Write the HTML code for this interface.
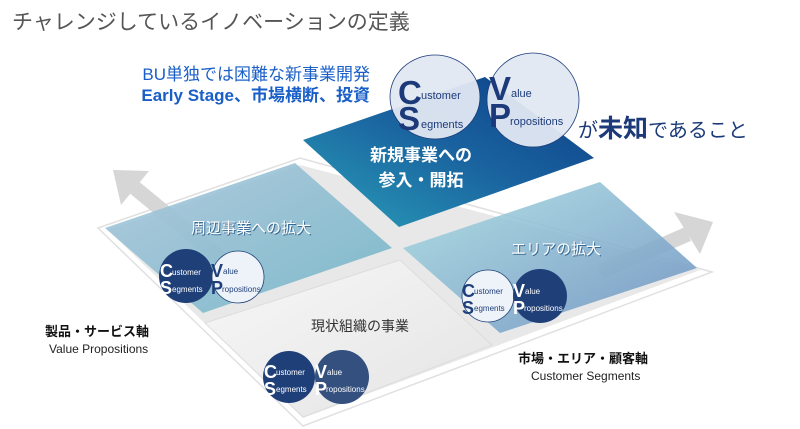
<!DOCTYPE html>
<html><head><meta charset="utf-8"><style>
html,body{margin:0;padding:0;background:#fff;width:800px;height:429px;overflow:hidden}
svg{display:block}
text{font-family:"Liberation Sans","Noto Sans CJK JP",sans-serif}
</style></head><body>
<svg width="800" height="429" viewBox="0 0 800 429" xmlns="http://www.w3.org/2000/svg">
<defs>
<linearGradient id="gTop" x1="0" y1="1" x2="1" y2="0">
<stop offset="0" stop-color="#2aa0b8"/><stop offset="0.5" stop-color="#1a64a0"/><stop offset="1" stop-color="#0c3c86"/></linearGradient>
<linearGradient id="gL" x1="0" y1="0" x2="1" y2="1">
<stop offset="0" stop-color="#a9c6dc"/><stop offset="1" stop-color="#6fb4c6"/></linearGradient>
<linearGradient id="gR" x1="0" y1="0" x2="1" y2="1">
<stop offset="0" stop-color="#a8dde2"/><stop offset="1" stop-color="#6b8fc0"/></linearGradient>
<linearGradient id="gB" x1="0" y1="0" x2="1" y2="1">
<stop offset="0" stop-color="#f7f7f7"/><stop offset="1" stop-color="#e4e4e4"/></linearGradient>
</defs>
<text x="12" y="29" font-size="21" fill="#555">チャレンジしているイノベーションの定義</text>
<!-- base -->
<polygon points="98,228 300,158 712,272 303,426" fill="#fff" stroke="#e0e0e0" stroke-width="1.5"/>
<polygon points="108,230 300,165 700,270 303,418" fill="#e8e8e8"/>
<!-- arrows -->
<line x1="135" y1="188" x2="225" y2="262" stroke="#d6d6d6" stroke-width="15"/>
<polygon points="113,170 149,171 121,205" fill="#d6d6d6"/>
<line x1="600" y1="272" x2="688" y2="234" stroke="#d6d6d6" stroke-width="15"/>
<polygon points="713,222 674,212 700,254" fill="#d6d6d6"/>
<!-- quads -->
<polygon points="303,140 485,77 594,158 399,227" fill="url(#gTop)"/>
<polygon points="105,228 295,163 392,248 203,313" fill="url(#gL)" opacity="0.88"/>
<polygon points="403,248 600,182 697,268 500,333" fill="url(#gR)" opacity="0.88"/>
<polygon points="205,323 400,260 492,345 303,417" fill="url(#gB)" stroke="#ddd"/>
<!-- top circles -->
<ellipse cx="435" cy="97" rx="45" ry="42" fill="#e2e8f2" fill-opacity="0.95" stroke="#1c3c7a" stroke-width="0.8"/>
<ellipse cx="533" cy="100" rx="46" ry="47" fill="#e2e8f2" fill-opacity="0.95" stroke="#1c3c7a" stroke-width="0.8"/>
<g fill="#1c3a7a">
<text x="398" y="104" font-size="33" font-weight="bold">C</text><text x="421" y="99" font-size="11">ustomer</text>
<text x="398" y="130" font-size="33" font-weight="bold">S</text><text x="421" y="128" font-size="11">egments</text>
<text x="489" y="100" font-size="33" font-weight="bold">V</text><text x="511" y="97" font-size="11">alue</text>
<text x="489" y="127" font-size="33" font-weight="bold">P</text><text x="510" y="125" font-size="11">ropositions</text>
</g>
<text x="370" y="80" font-size="17" fill="#1a5fc8" text-anchor="end">BU単独では困難な新事業開発</text>
<text x="370" y="101" font-size="17" fill="#1a5fc8" font-weight="bold" text-anchor="end">Early Stage、市場横断、投資</text>
<text x="578" y="137" font-size="20" fill="#1c3a7a">が<tspan font-size="25" font-weight="bold">未知</tspan>であること</text>
<text x="421" y="161" font-size="17" fill="#fff" font-weight="bold" text-anchor="middle">新規事業への</text>
<text x="421" y="186" font-size="17" fill="#fff" font-weight="bold" text-anchor="middle">参入・開拓</text>
<text x="252" y="234" font-size="15" fill="#3a6a96" text-anchor="middle">周辺事業への拡大</text>
<text x="251" y="233" font-size="15" fill="#fff" text-anchor="middle">周辺事業への拡大</text>
<text x="557" y="255" font-size="15" fill="#3a6a96" text-anchor="middle">エリアの拡大</text>
<text x="556" y="254" font-size="15" fill="#fff" text-anchor="middle">エリアの拡大</text>
<text x="360" y="331" font-size="14" fill="#333" text-anchor="middle">現状組織の事業</text>
<!-- small pairs -->
<g>
<circle cx="186" cy="276" r="27" fill="#1f3f78"/>
<circle cx="238" cy="277" r="26" fill="#eef3fa" stroke="#1f3f78" stroke-width="0.8"/>
<text x="160" y="277" font-size="18" font-weight="bold" fill="#fff">C</text><text x="172" y="275" font-size="8" fill="#fff">ustomer</text>
<text x="160" y="294" font-size="18" font-weight="bold" fill="#fff">S</text><text x="172" y="292" font-size="8" fill="#fff">egments</text>
<text x="211" y="277" font-size="18" font-weight="bold" fill="#1f3f78">V</text><text x="223" y="274" font-size="8" fill="#1f3f78">alue</text>
<text x="211" y="294" font-size="18" font-weight="bold" fill="#1f3f78">P</text><text x="222" y="292" font-size="8" fill="#1f3f78">ropositions</text>

<circle cx="488" cy="296" r="26" fill="#eef3fa" stroke="#1f3f78" stroke-width="0.8"/>
<circle cx="540" cy="296" r="27" fill="#1f3f78"/>
<text x="462" y="297" font-size="18" font-weight="bold" fill="#1f3f78">C</text><text x="474" y="294" font-size="8" fill="#1f3f78">ustomer</text>
<text x="462" y="314" font-size="18" font-weight="bold" fill="#1f3f78">S</text><text x="474" y="311" font-size="8" fill="#1f3f78">egments</text>
<text x="513" y="297" font-size="18" font-weight="bold" fill="#fff">V</text><text x="525" y="294" font-size="8" fill="#fff">alue</text>
<text x="513" y="314" font-size="18" font-weight="bold" fill="#fff">P</text><text x="524" y="311" font-size="8" fill="#fff">ropositions</text>

<circle cx="289" cy="377" r="26" fill="#1f3f78"/>
<circle cx="342" cy="377" r="27" fill="#34507e"/>
<text x="264" y="378" font-size="18" font-weight="bold" fill="#fff">C</text><text x="276" y="375" font-size="8" fill="#fff">ustomer</text>
<text x="264" y="395" font-size="18" font-weight="bold" fill="#fff">S</text><text x="276" y="392" font-size="8" fill="#fff">egments</text>
<text x="315" y="378" font-size="18" font-weight="bold" fill="#fff">V</text><text x="327" y="375" font-size="8" fill="#fff">alue</text>
<text x="315" y="395" font-size="18" font-weight="bold" fill="#fff">P</text><text x="326" y="392" font-size="8" fill="#fff">ropositions</text>
</g>
<text x="45" y="336" font-size="13" font-weight="bold" fill="#111">製品・サービス軸</text>
<text x="49" y="353" font-size="12" fill="#222">Value Propositions</text>
<text x="518" y="363" font-size="13" font-weight="bold" fill="#111">市場・エリア・顧客軸</text>
<text x="531" y="380" font-size="12" fill="#222">Customer Segments</text>
</svg>
</body></html>
